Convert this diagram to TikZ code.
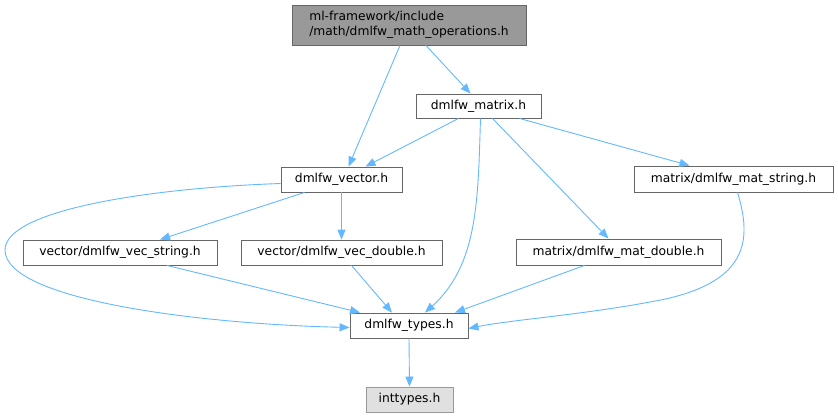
\documentclass[tikz,border=0pt]{standalone}
\usepackage{fontspec}
\setmainfont{DejaVu Sans}
\usetikzlibrary{arrows.meta}
\definecolor{edgeblue}{HTML}{63B8FF}
\definecolor{boxline}{HTML}{666666}
\definecolor{rootfill}{HTML}{999999}
\definecolor{sysfill}{HTML}{E0E0E0}
\begin{document}
\begin{tikzpicture}[x=1pt,y=-1pt,>={Triangle[length=10pt,width=8pt]},
  file/.style={draw=boxline,line width=0.9pt,fill=white,inner sep=0pt,
    font=\fontsize{12.3}{15.5}\selectfont},
  dep/.style={->,draw=edgeblue,line width=0.9pt}]
   \useasboundingbox (0,0) rectangle (838,417);
   % ノード
   \node[file,fill=rootfill,minimum width=234pt,minimum height=40pt,align=left] (root) at (409,25)
      {ml-framework/include\\/math/dmlfw\_math\_operations.h};
   \node[file,minimum width=125pt,minimum height=24pt] (matrix) at (478.5,106) {dmlfw\_matrix.h};
   \node[file,minimum width=121pt,minimum height=25pt] (vector) at (341.5,179.5) {dmlfw\_vector.h};
   \node[file,minimum width=199pt,minimum height=26pt] (matstring) at (733.5,179) {matrix/dmlfw\_mat\_string.h};
   \node[file,minimum width=194pt,minimum height=25pt] (vecstring) at (120,252.5) {vector/dmlfw\_vec\_string.h};
   \node[file,minimum width=201pt,minimum height=25pt] (vecdouble) at (341.5,252.5) {vector/dmlfw\_vec\_double.h};
   \node[file,minimum width=205pt,minimum height=26pt] (matdouble) at (618.5,252) {matrix/dmlfw\_mat\_double.h};
   \node[file,minimum width=118pt,minimum height=25pt] (types) at (409,325.5) {dmlfw\_types.h};
   \node[file,draw=rootfill,fill=sysfill,minimum width=87pt,minimum height=25pt] (inttypes) at (409.5,399.5) {inttypes.h};

   % 矢印
   \draw[dep] ([xshift=-9pt]root.south) -- ([xshift=7pt]vector.north);
   \draw[dep] ([xshift=17pt]root.south) -- ([xshift=-8pt]matrix.north);
   \draw[dep] ([xshift=-20pt]matrix.south) -- ([xshift=24pt]vector.north);
   \draw[dep] ([xshift=2pt]matrix.south) .. controls (478,200) and (478,265) .. ([xshift=16pt]types.north);
   \draw[dep] ([xshift=14pt]matrix.south) -- ([xshift=-10pt]matdouble.north);
   \draw[dep] ([xshift=41pt]matrix.south) -- ([xshift=-44pt]matstring.north);
   \draw[dep] ([xshift=-37pt]vector.south) -- ([xshift=40pt]vecstring.north);
   \draw[dep] (vector.south) -- (vecdouble.north);
   \draw[dep] ([yshift=-4pt]vector.west) .. controls (150,188) and (5,210) .. (5,250)
      .. controls (5,300) and (200,324) .. ([yshift=-2pt]types.west);
   \draw[dep] ([xshift=47pt]vecstring.south) -- ([xshift=-49pt]types.north);
   \draw[dep] ([xshift=10pt]vecdouble.south) -- ([xshift=-17pt]types.north);
   \draw[dep] ([xshift=-34pt]matdouble.south) -- ([xshift=46pt]types.north);
   \draw[dep] ([xshift=4pt]matstring.south) .. controls (752,240) and (750,285) .. (650,302)
      .. controls (580,315) and (510,320) .. ([yshift=-3pt]types.east);
   \draw[dep] (types.south) -- (inttypes.north);
\end{tikzpicture}
\end{document}
